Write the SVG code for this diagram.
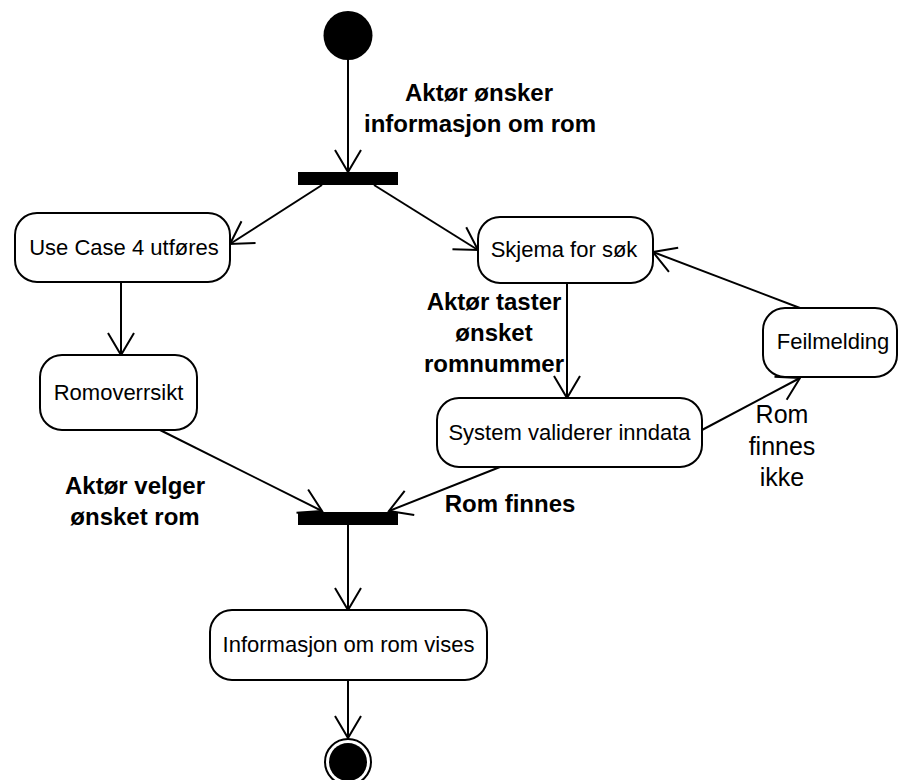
<svg xmlns="http://www.w3.org/2000/svg" width="900" height="780" viewBox="0 0 900 780">
  <style>
    .node { fill: #ffffff; stroke: #000000; stroke-width: 2; }
    .ntext { font-family: "Liberation Sans", Arial, sans-serif; font-size: 22px; fill: #000000; text-anchor: middle; }
    .label { font-family: "Liberation Sans", Arial, sans-serif; font-size: 24px; font-weight: bold; fill: #000000; text-anchor: middle; }
    .label-light { font-family: "Liberation Sans", Arial, sans-serif; font-size: 25px; fill: #000000; text-anchor: middle; }
    .edge { fill: none; stroke: #000000; stroke-width: 2; marker-end: url(#open-arrow); }
    .bar { fill: #000000; }
  </style>
  <defs>
    <marker id="open-arrow" markerUnits="userSpaceOnUse" viewBox="-26 -16 28 32" refX="0" refY="0" markerWidth="28" markerHeight="32" orient="auto">
      <path d="M -22 -13 L 0 0 L -22 13" fill="none" stroke="#000000" stroke-width="2"/>
    </marker>
  </defs>

  <rect width="900" height="780" fill="#ffffff"/>

  <!-- connectors -->
  <g id="connectors">
    <line class="edge" x1="348" y1="60" x2="348" y2="172"/>
    <line class="edge" x1="322" y1="185" x2="230" y2="244"/>
    <line class="edge" x1="374" y1="185" x2="478" y2="250"/>
    <line class="edge" x1="121" y1="282" x2="121" y2="355"/>
    <line class="edge" x1="160" y1="430" x2="322" y2="511"/>
    <line class="edge" x1="500" y1="467" x2="389" y2="511"/>
    <line class="edge" x1="567" y1="283" x2="567" y2="398"/>
    <line class="edge" x1="702" y1="430" x2="800" y2="378"/>
    <line class="edge" x1="800" y1="308" x2="653" y2="252"/>
    <line class="edge" x1="348" y1="525" x2="348" y2="610"/>
    <line class="edge" x1="348" y1="680" x2="348" y2="738"/>
  </g>

  <!-- transition labels -->
  <g id="labels">
    <text class="label" x="479" y="101">Aktør ønsker</text>
    <text class="label" x="480" y="132">informasjon om rom</text>
    <text class="label" x="494" y="310">Aktør taster</text>
    <text class="label" x="494" y="341">ønsket</text>
    <text class="label" x="494" y="372">romnummer</text>
    <text class="label" x="135" y="494">Aktør velger</text>
    <text class="label" x="135" y="525">ønsket rom</text>
    <text class="label" x="510" y="512">Rom finnes</text>
    <text class="label-light" x="782" y="423">Rom</text>
    <text class="label-light" x="782" y="455">finnes</text>
    <text class="label-light" x="782" y="486">ikke</text>
  </g>

  <g id="start">
    <circle cx="348" cy="35.5" r="24.5" fill="#000000"/>
  </g>

  <g id="fork">
    <rect class="bar" x="298" y="172" width="100" height="13"/>
  </g>

  <g id="use-case-4">
    <rect class="node" x="15" y="213" width="215" height="69" rx="22" ry="22"/>
    <text class="ntext" x="124" y="255">Use Case 4 utføres</text>
  </g>

  <g id="romoversikt">
    <rect class="node" x="40" y="355" width="157" height="75" rx="22" ry="22"/>
    <text class="ntext" x="118.5" y="400">Romoverrsikt</text>
  </g>

  <g id="skjema">
    <rect class="node" x="478" y="217" width="175" height="66" rx="22" ry="22"/>
    <text class="ntext" x="564" y="257">Skjema for søk</text>
  </g>

  <g id="feilmelding">
    <rect class="node" x="763" y="308" width="134" height="69" rx="22" ry="22"/>
    <text class="ntext" x="833" y="349">Feilmelding</text>
  </g>

  <g id="validering">
    <rect class="node" x="437" y="398" width="265" height="69" rx="22" ry="22"/>
    <text class="ntext" x="569.5" y="440">System validerer inndata</text>
  </g>

  <g id="join">
    <rect class="bar" x="298" y="512" width="100" height="13"/>
  </g>

  <g id="informasjon">
    <rect class="node" x="210" y="610" width="277" height="70" rx="22" ry="22"/>
    <text class="ntext" x="348.5" y="652">Informasjon om rom vises</text>
  </g>

  <g id="end">
    <circle cx="348" cy="762" r="23" fill="none" stroke="#000000" stroke-width="2"/>
    <circle cx="348" cy="762" r="19" fill="#000000"/>
  </g>
</svg>
